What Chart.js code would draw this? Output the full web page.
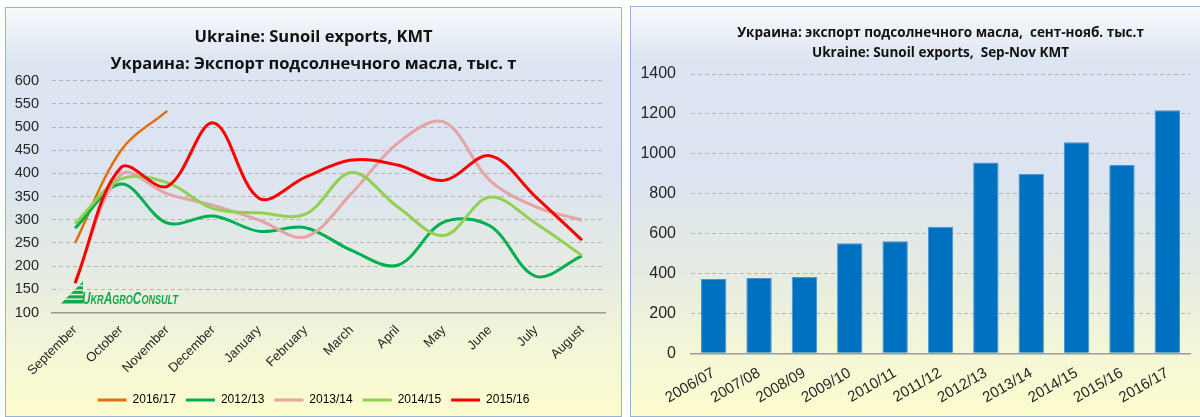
<!DOCTYPE html>
<html>
<head>
<meta charset="utf-8">
<script src="https://cdn.jsdelivr.net/npm/chart.js@4.4.0/dist/chart.umd.min.js"></script>
<style>
html,body{margin:0;padding:0;background:#fff;width:1200px;height:417px;overflow:hidden;position:relative}
.panel{position:absolute;box-sizing:border-box;border:1px solid #95b3d7;
  background:linear-gradient(180deg,#f8fafd 0%,#dce5f1 13%,#dbe4f0 40%,#e6ebe2 65%,#f3f5d8 82%,#fcfcce 100%);}
#p1{left:5px;top:7px;width:617px;height:410px}
#p2{left:630px;top:6px;width:621px;height:411px}
canvas{position:absolute;left:0;top:0}
</style>
</head>
<body>
<div class="panel" id="p1"><canvas id="c1" width="615" height="408" style="width:615px;height:408px"></canvas></div>
<div class="panel" id="p2"><canvas id="c2" width="619" height="409" style="width:619px;height:409px"></canvas></div>
<script>
// ---------- data ----------
const months = ['September','October','November','December','January','February','March','April','May','June','July','August'];
const seasonLabels = ['2016/17','2012/13','2013/14','2014/15','2015/16'];
const exp2016_17 = [250, 450, 535];
const exp2012_13 = [282, 377, 293, 308, 275, 283, 234, 202, 295, 287, 178, 222];
const exp2013_14 = [168, 398, 356, 331, 299, 263, 357, 465, 511, 385, 328, 299];
const exp2014_15 = [292, 388, 380, 324, 315, 312, 402, 328, 266, 349, 292, 223];
const exp2015_16 = [163, 413, 372, 509, 346, 392, 429, 418, 385, 438, 349, 256];
const seriesColors = ['#e46c0a','#00b050','#e6a3a3','#92d050','#ff0000'];
const leftYTicks = [100,150,200,250,300,350,400,450,500,550,600];

const sepNovSeasons = ['2006/07','2007/08','2008/09','2009/10','2010/11','2011/12','2012/13','2013/14','2014/15','2015/16','2016/17'];
const sepNovExports = [372, 377, 382, 552, 562, 634, 956, 899, 1058, 944, 1218];
const rightYTicks = [0,200,400,600,800,1000,1200,1400];

const leftTitle = ['Ukraine: Sunoil exports, KMT','Украина: Экспорт подсолнечного масла, тыс. т'];
const rightTitle = ['Украина: экспорт подсолнечного масла,  сент-нояб. тыс.т','Ukraine: Sunoil exports,  Sep-Nov KMT'];

// ---------- common ----------
Chart.defaults.font.family = '"Liberation Sans", Arial, sans-serif';
Chart.defaults.color = '#262626';
Chart.defaults.animation = false;

const titleFamily = '"Open Sans", "Noto Sans", sans-serif';

// invisible right-side spacer axis (keeps title/legend centred on the full panel)
const spacerAxis = w => ({
  position: 'right', display: true,
  grid: {display: false, drawTicks: false}, border: {display: false},
  ticks: {display: false},
  afterFit(s) { s.width = w; }
});

const logoPlugin = {
  id: 'ukrLogo',
  beforeDatasetsDraw(chart) {
    const {ctx, chartArea: a} = chart;
    const x0 = a.left + 9, yb = a.bottom - 9;
    ctx.save();
    ctx.fillStyle = '#13a84b';
    ctx.beginPath();
    ctx.moveTo(x0, yb); ctx.lineTo(x0 + 22, yb); ctx.lineTo(x0 + 22, yb - 22); ctx.closePath();
    ctx.fill();
    ctx.globalCompositeOperation = 'destination-out';
    for (let i = 1; i <= 4; i++) ctx.fillRect(x0 - 2, yb - i * 4.5 - 0.6, 26, 1.4);
    ctx.globalCompositeOperation = 'source-over';
    const parts = [['U',17],['KR',13],['A',17],['GRO',13],['C',17],['ONSULT',13]];
    let w = 0;
    parts.forEach(p => { ctx.font = `italic bold ${p[1]}px "Liberation Sans"`; w += ctx.measureText(p[0]).width; });
    ctx.translate(x0 + 21, yb);
    ctx.scale(96 / w, 1);
    ctx.textBaseline = 'alphabetic';
    let cx = 0;
    parts.forEach(p => { ctx.font = `italic bold ${p[1]}px "Liberation Sans"`; ctx.fillText(p[0], cx, 0); cx += ctx.measureText(p[0]).width; });
    ctx.restore();
  }
};

// ---------- left chart ----------
const leftSeries = [exp2016_17, exp2012_13, exp2013_14, exp2014_15, exp2015_16];
new Chart(document.getElementById('c1'), {
  type: 'line',
  data: {
    labels: months,
    datasets: leftSeries.map((vals, i) => ({
      label: seasonLabels[i],
      data: vals,
      borderColor: seriesColors[i],
      backgroundColor: seriesColors[i],
      borderWidth: i === 0 ? 2.5 : 3,
      pointRadius: 0,
      tension: 0.35,
      fill: false,
      order: 5 - i
    }))
  },
  options: {
    responsive: false,
    devicePixelRatio: 1,
    layout: {padding: 0},
    plugins: {
      title: {display: true, text: leftTitle, color: '#111',
        font: {family: titleFamily, weight: 'bold', size: 16.5, lineHeight: '26.6px'},
        padding: {top: 16, bottom: 3.5}},
      legend: {position: 'bottom',
        labels: {boxWidth: 29, boxHeight: 3, padding: 10, color: '#262626',
          font: {size: 12},
          generateLabels: chart => chart.data.datasets.map((d, i) => ({
            text: d.label, fillStyle: d.borderColor, strokeStyle: d.borderColor,
            lineWidth: 0, hidden: false, datasetIndex: i}))}},
      tooltip: {enabled: false}
    },
    scales: {
      x: {
        offset: true,
        grid: {display: false, drawTicks: false},
        border: {display: true, color: '#9a9a9a', width: 1.5},
        ticks: {autoSkip: false, minRotation: 45, maxRotation: 45, padding: 10, font: {size: 13}, color: '#262626'},
        afterFit(s) { s.height = 71.5; }
      },
      y: {
        min: leftYTicks[0], max: leftYTicks[leftYTicks.length - 1],
        afterBuildTicks(s) { s.ticks = leftYTicks.map(v => ({value: v})); },
        grid: {drawTicks: false, lineWidth: 1,
          color: c => c.tick && c.tick.value === leftYTicks[0] ? 'rgba(0,0,0,0)' : '#b4b4b4'},
        border: {display: false, dash: [4, 3]},
        ticks: {padding: 13, font: {size: 14.5}, color: '#262626'},
        afterFit(s) { s.width = 46; }
      },
      ySpacer: spacerAxis(16)
    }
  },
  plugins: [logoPlugin]
});

// ---------- right chart ----------
new Chart(document.getElementById('c2'), {
  type: 'bar',
  data: {
    labels: sepNovSeasons,
    datasets: [{
      label: 'Sep-Nov',
      data: sepNovExports,
      backgroundColor: '#0070c0',
      borderColor: '#4b93d3',
      borderWidth: 1,
      barPercentage: 0.56,
      categoryPercentage: 1
    }]
  },
  options: {
    responsive: false,
    devicePixelRatio: 1,
    layout: {padding: 0},
    plugins: {
      title: {display: true, text: rightTitle, color: '#111',
        font: {family: titleFamily, weight: 'bold', size: 13.5, lineHeight: '20px'},
        padding: {top: 16, bottom: 11}},
      legend: {display: false},
      tooltip: {enabled: false}
    },
    scales: {
      x: {
        grid: {display: false, drawTicks: false},
        border: {display: true, color: '#9a9a9a', width: 1.5},
        ticks: {autoSkip: false, minRotation: 30, maxRotation: 30, padding: 11, font: {size: 15}, color: '#262626'},
        afterFit(s) { s.height = 62.7; }
      },
      y: {
        min: rightYTicks[0], max: rightYTicks[rightYTicks.length - 1],
        afterBuildTicks(s) { s.ticks = rightYTicks.map(v => ({value: v})); },
        grid: {drawTicks: false, lineWidth: 1,
          color: c => c.tick && c.tick.value === rightYTicks[0] ? 'rgba(0,0,0,0)' : '#b4b4b4'},
        border: {display: false, dash: [4, 3]},
        ticks: {padding: 15, font: {size: 16}, color: '#262626', callback: v => String(v)},
        afterFit(s) { s.width = 60; }
      },
      ySpacer: spacerAxis(60)
    }
  }
});
</script>
</body>
</html>
